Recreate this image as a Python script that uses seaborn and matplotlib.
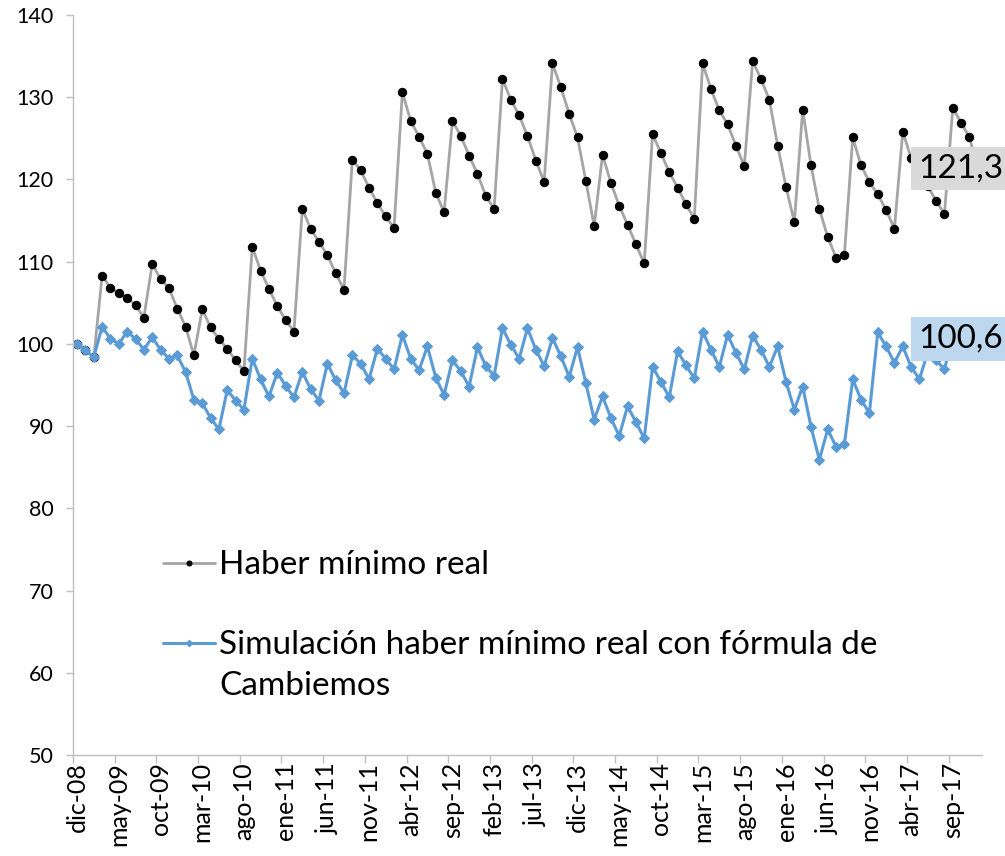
import numpy as np
import pandas as pd
import matplotlib
matplotlib.use("Agg")
import matplotlib.pyplot as plt
import seaborn as sns

# indices base dic-08 = 100, mensual dic-08 .. dic-17
haber = [100.0, 99.2, 98.4, 108.3, 106.8, 106.2, 105.6, 104.7, 103.2, 109.7,
         107.9, 106.8, 104.3, 102.1, 98.6, 104.2, 102.0, 100.6, 99.4, 98.0,
         96.7, 111.8, 108.9, 106.7, 104.6, 102.9, 101.5, 116.4, 114.0, 112.4,
         110.8, 108.6, 106.6, 122.4, 121.1, 119.0, 117.1, 115.5, 114.1, 130.6,
         127.1, 125.2, 123.1, 118.4, 116.0, 127.1, 125.3, 122.9, 120.7, 118.0,
         116.4, 132.2, 129.7, 127.8, 125.3, 122.3, 119.7, 134.1, 131.2, 128.0,
         125.1, 119.8, 114.3, 123.0, 119.6, 116.8, 114.5, 112.1, 109.8, 125.5,
         123.2, 120.9, 119.0, 117.0, 115.2, 134.1, 131.0, 128.4, 126.7, 124.1,
         121.6, 134.4, 132.2, 129.7, 124.1, 119.1, 114.8, 128.5, 121.7, 116.4,
         113.0, 110.5, 110.8, 125.1, 121.7, 119.7, 118.2, 116.3, 114.0, 125.8,
         122.6, 121.0, 119.2, 117.4, 115.8, 128.7, 126.9, 125.1, 121.3]

simulacion = [100.0, 99.2, 98.4, 102.1, 100.6, 100.0, 101.5, 100.6, 99.3, 100.8,
              99.3, 98.2, 98.6, 96.6, 93.2, 92.8, 91.0, 89.6, 94.4, 93.1,
              92.0, 98.2, 95.7, 93.6, 96.5, 94.9, 93.5, 96.6, 94.5, 93.1,
              97.6, 95.6, 94.0, 98.6, 97.6, 95.7, 99.4, 98.2, 96.9, 101.1,
              98.2, 96.8, 99.7, 95.9, 93.8, 98.0, 96.7, 94.8, 99.6, 97.3,
              96.1, 101.9, 99.9, 98.2, 101.9, 99.3, 97.3, 100.7, 98.5, 96.0,
              99.6, 95.2, 90.8, 93.6, 91.0, 88.8, 92.4, 90.5, 88.5, 97.2,
              95.4, 93.5, 99.1, 97.4, 95.8, 101.5, 99.3, 97.2, 101.1, 98.9,
              96.9, 101.0, 99.3, 97.2, 99.7, 95.4, 92.0, 94.8, 89.9, 85.9,
              89.6, 87.5, 87.8, 95.7, 93.2, 91.6, 101.4, 99.7, 97.7, 99.7,
              97.2, 95.7, 99.0, 98.0, 96.9, 101.0, 99.6, 98.6, 100.6]

tick_labels = ["dic-08", "may-09", "oct-09", "mar-10", "ago-10", "ene-11",
               "jun-11", "nov-11", "abr-12", "sep-12", "feb-13", "jul-13",
               "dic-13", "may-14", "oct-14", "mar-15", "ago-15", "ene-16",
               "jun-16", "nov-16", "abr-17", "sep-17"]

df = pd.DataFrame({"mes": range(len(haber)), "haber": haber, "simulacion": simulacion})

sns.set_style("white")
plt.rcParams["font.family"] = ["Lato", "DejaVu Sans"]
plt.rcParams["text.color"] = "black"
plt.rcParams["xtick.labelcolor"] = "black"
plt.rcParams["ytick.labelcolor"] = "black"

fig = plt.figure(figsize=(10.05, 8.56), dpi=100)
ax = fig.add_axes([0.0726, 0.118, 0.9045, 0.8645])

sns.lineplot(x="mes", y="haber", data=df, ax=ax, color="#a5a5a5", lw=2,
             marker="o", markersize=6, markerfacecolor="black", markeredgecolor="black",
             label="Haber mínimo real")
sns.lineplot(x="mes", y="simulacion", data=df, ax=ax, color="#5b9bd5", lw=2.2,
             marker="D", markersize=5.5, markerfacecolor="#5b9bd5", markeredgecolor="#5b9bd5",
             label="Simulación haber mínimo real con fórmula de")

ax.set_xlim(-0.5, len(haber) - 0.5)
ax.set_ylim(50, 140)
ax.set_yticks(np.arange(50, 141, 10))

# ticks entre categorias, etiquetas en el centro
ax.set_xticks(np.arange(-0.5, len(haber), 5))
ax.set_xticklabels([])
ax.set_xticks(np.arange(0, len(haber), 5)[:len(tick_labels)], minor=True)
ax.set_xticklabels(tick_labels, minor=True, rotation=90, fontsize=18)
ax.tick_params(axis="x", which="major", length=6, width=1, color="#bfbfbf", direction="out", bottom=True)
ax.tick_params(axis="x", which="minor", length=0, pad=5, labelcolor="black")
ax.tick_params(axis="y", length=5, width=1, color="#bfbfbf", direction="out", left=True,
               labelsize=15.5, pad=9, labelcolor="black")

ax.set_xlabel("")
ax.set_ylabel("")
sns.despine(ax=ax)
for s in ["left", "bottom"]:
    ax.spines[s].set_color("#bfbfbf")
    ax.spines[s].set_linewidth(1)

ax.legend(loc="upper left", bbox_to_anchor=(0.0990, 0.2765), frameon=False, fontsize=24,
          handlelength=1.57, handletextpad=0.12, labelspacing=1.5, borderpad=0, borderaxespad=0,
          markerscale=0.6, labelcolor="black")
ax.text(0.1606, 0.0932, "Cambiemos", transform=ax.transAxes, fontsize=24, ha="left", va="center",
        color="black")

# etiquetas del ultimo dato
ult = len(haber) - 1
ax.annotate(f"{haber[-1]:.1f}".replace(".", ","), xy=(ult, haber[-1]), xytext=(-60, 0),
            textcoords="offset pixels", ha="left", va="center", fontsize=24, color="black",
            bbox=dict(boxstyle="square,pad=0.2", fc="#d9d9d9", ec="none"), annotation_clip=False)
ax.annotate(f"{simulacion[-1]:.1f}".replace(".", ","), xy=(ult, simulacion[-1]), xytext=(-60, 0),
            textcoords="offset pixels", ha="left", va="center", fontsize=24, color="black",
            bbox=dict(boxstyle="square,pad=0.2", fc="#bdd7ee", ec="none"), annotation_clip=False)

fig.savefig("out.png", dpi=100)
